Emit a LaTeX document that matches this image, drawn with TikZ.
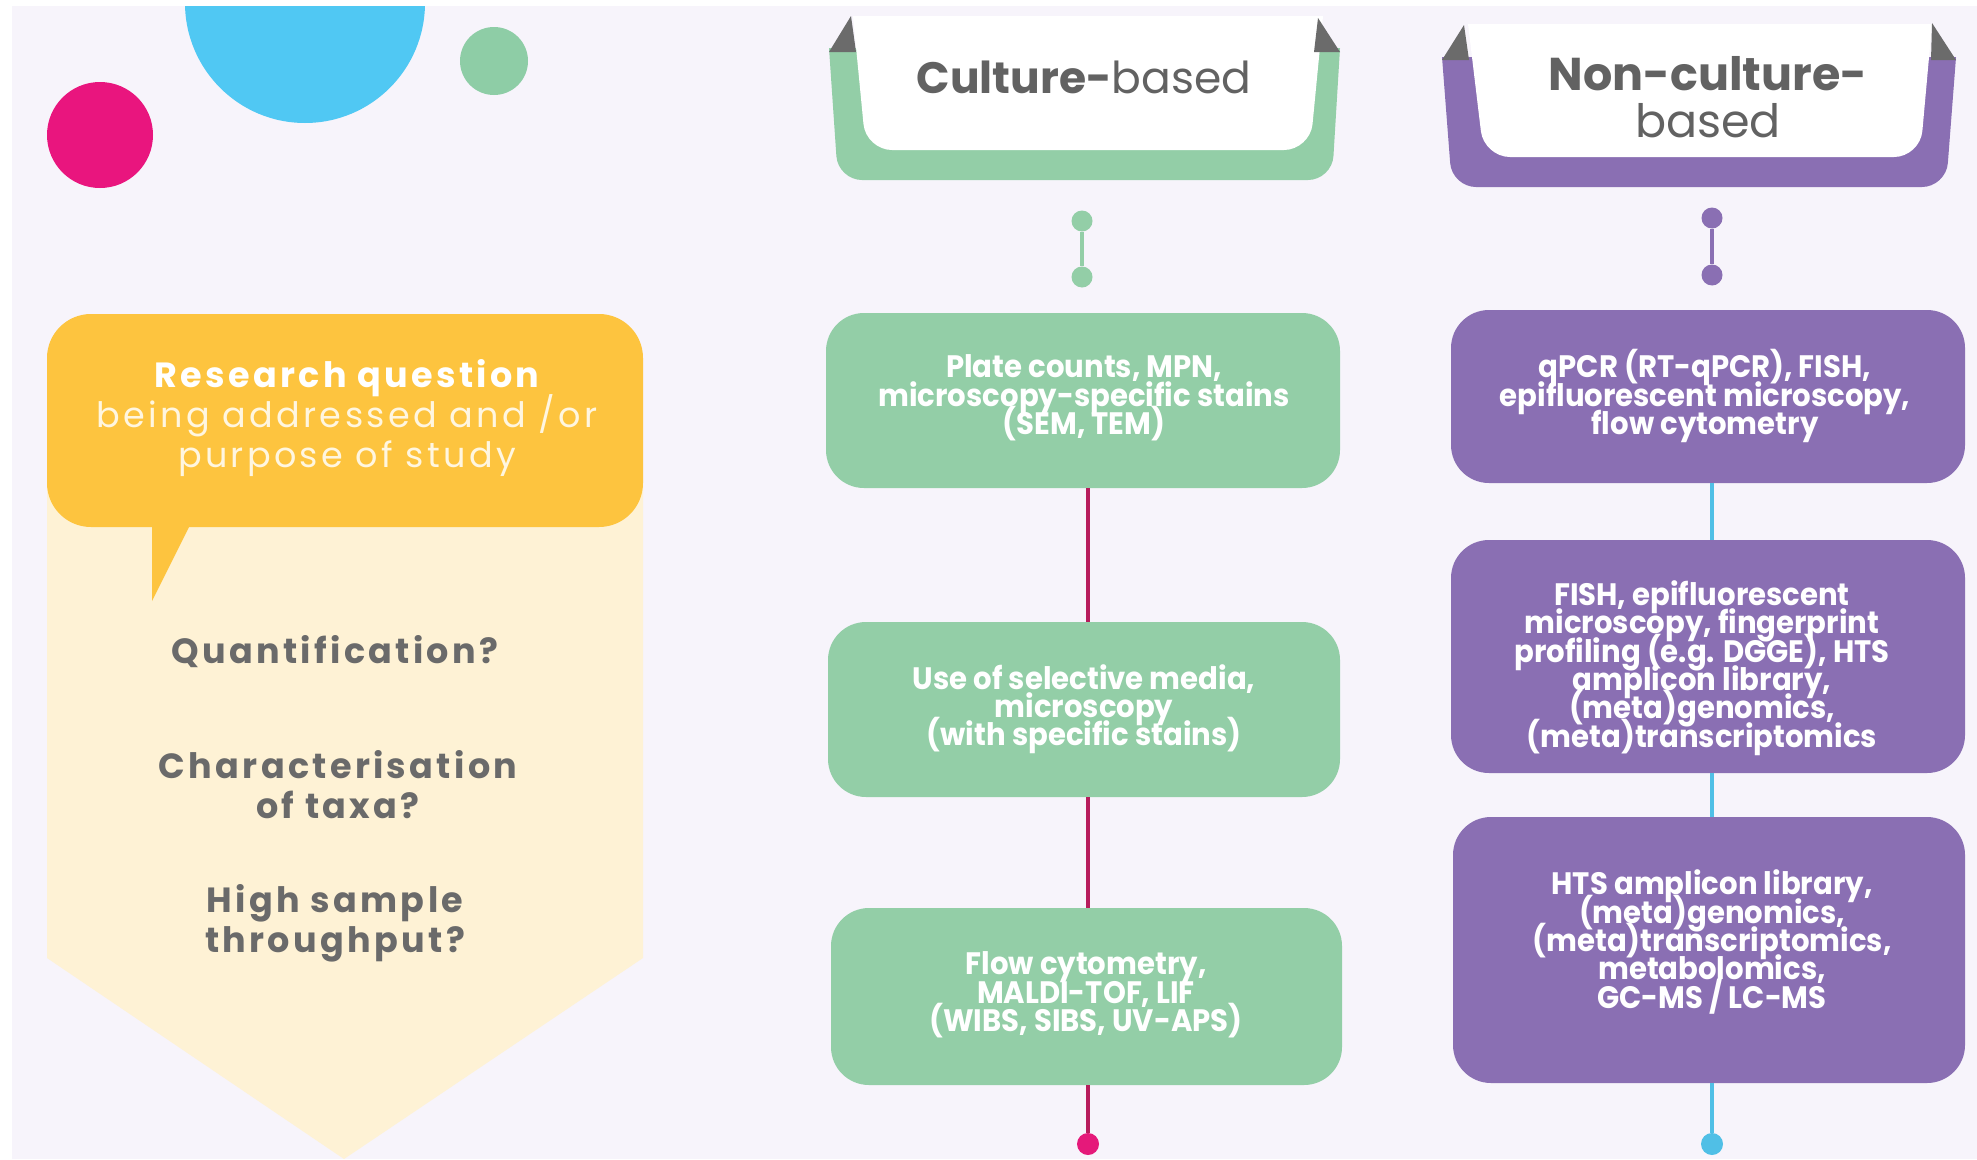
\documentclass[tikz,border=0pt]{standalone}
\usepackage{fontspec}
\setmainfont{Poppins}
\newfontfamily\boxfont{Poppins}[FakeStretch=0.94]
\newfontfamily\spacedfont{Poppins}[LetterSpace=9.5]
\AtBeginDocument{\setlength{\lineskiplimit}{-100pt}}
\definecolor{bg}{HTML}{F7F4FB}
\definecolor{grn}{HTML}{93CEA7}
\definecolor{pur}{HTML}{8A6FB3}
\definecolor{yel}{HTML}{FDC43F}
\definecolor{paleyel}{HTML}{FEF2D5}
\definecolor{magline}{HTML}{B71C5C}
\definecolor{magdot}{HTML}{E5197A}
\definecolor{blueline}{HTML}{50BFE6}
\definecolor{spk}{HTML}{6B6B6B}
\definecolor{magc}{HTML}{E9157E}
\definecolor{bluec}{HTML}{50C8F3}
\definecolor{grnc}{HTML}{8ECDA6}
\definecolor{txtgray}{HTML}{6A6A6A}
\definecolor{hdrgray}{HTML}{626262}
\definecolor{cream}{HTML}{FFF6E0}
\begin{document}
\begin{tikzpicture}[x=1pt,y=-1pt,
  gbox/.style={draw=none,fill=grn,rounded corners=38pt,inner sep=0pt},
  pbox/.style={draw=none,fill=pur,rounded corners=38pt,inner sep=0pt},
  boxtext/.style={text=white,align=center,font={\boxfont\bfseries\fontsize{31}{28.3}\selectfont},inner sep=0pt},
  qtext/.style={text=txtgray,align=center,font={\spacedfont\bfseries\fontsize{35}{40}\selectfont},inner sep=0pt},
  gdot/.style={circle,fill=grn,draw=none,minimum size=21pt,inner sep=0pt},
  pdot/.style={circle,fill=pur,draw=none,minimum size=21pt,inner sep=0pt},
  mline/.style={draw=magline,line width=4pt},
  bline/.style={draw=blueline,line width=3.5pt}
]
\useasboundingbox (0,0) rectangle (1977,1159);
\fill[white] (0,0) rectangle (1977,1159);
\fill[bg] (12,6) rectangle (1977,1159);
% decorative circles
\begin{scope}
\clip (12,6) rectangle (1977,1159);
\fill[bluec] (305,3) circle (120pt);
\end{scope}
\fill[magc] (100,135) circle (53pt);
\fill[grnc] (494,61) circle (34pt);
% left yellow panel
\fill[paleyel] (47,480) -- (643,480) -- (643,958) -- (344,1159) -- (47,958) -- cycle;
\fill[yel, rounded corners=44pt] (47,314) rectangle (643,527);
\fill[yel] (152,515) -- (195,515) -- (152,601) -- cycle;
\node[text=cream,align=center,inner sep=0pt,font={\spacedfont\fontsize{35}{40}\selectfont}] (rq) at (347,418)
  {\textcolor{white}{\bfseries Research question}\\being addressed and /or\\purpose of study};
\node[qtext] (q1) at (335,652) {Quantification?};
\node[qtext] (q2) at (338,785) {Characterisation\\of taxa?};
\node[qtext] (q3) at (335,923) {High sample\\throughput?};
% culture-based header
\fill[grn] (829,48) [rounded corners=24pt] -- (838,180) -- (1332,180) [sharp corners] -- (1340,48) -- cycle;
\fill[white] (853,16) [rounded corners=26pt] -- (866,150) -- (1310,150) [sharp corners] -- (1323,16) -- cycle;
\fill[spk] (829,52) -- (856,52) -- (851,16) -- cycle;
\fill[spk] (1340,52) -- (1314,52) -- (1318,18) -- cycle;
\node[text=hdrgray,inner sep=0pt,font={\fontsize{44}{46}\selectfont}] (ch) at (1084,77) {\textbf{Culture-}based};
% non-culture-based header
\fill[pur] (1442,57) [rounded corners=24pt] -- (1452,187) -- (1946,187) [sharp corners] -- (1956,57) -- cycle;
\fill[white] (1468,24) [rounded corners=26pt] -- (1484,157) -- (1920,157) [sharp corners] -- (1932,24) -- cycle;
\fill[spk] (1442,60) -- (1469,60) -- (1464,25) -- cycle;
\fill[spk] (1956,60) -- (1931,60) -- (1932,23) -- cycle;
\node[text=hdrgray,align=center,inner sep=0pt,font={\fontsize{46}{47}\selectfont}] (nh) at (1708,97) {\textbf{Non-culture-}\\based};
% dumbbells
\node[gdot] (gd1) at (1082,221) {};
\node[gdot] (gd2) at (1082,277) {};
\draw[draw=grn,line width=4pt] (gd1) -- (gd2);
\node[pdot] (pd1) at (1712,218) {};
\node[pdot] (pd2) at (1712,275) {};
\draw[draw=pur,line width=4pt] (pd1) -- (pd2);
% culture-based boxes
\node[gbox,minimum width=514pt,minimum height=175pt] (g1) at (1083,400.5) {};
\node[gbox,minimum width=512pt,minimum height=175pt] (g2) at (1084,709.5) {};
\node[gbox,minimum width=511pt,minimum height=177pt] (g3) at (1086.5,996.5) {};
\node[boxtext] (g1t) at (1084,398) {Plate counts, MPN,\\microscopy-specific stains\\(SEM, TEM)};
\node[boxtext] (g2t) at (1084,709) {Use of selective media,\\microscopy\\(with specific stains)};
\node[boxtext] (g3t) at (1086,995) {Flow cytometry,\\MALDI-TOF, LIF\\(WIBS, SIBS, UV-APS)};
% non-culture boxes
\node[pbox,minimum width=514pt,minimum height=173pt] (p1) at (1708,396.5) {};
\node[pbox,minimum width=514pt,minimum height=233pt] (p2) at (1708,656.5) {};
\node[pbox,minimum width=512pt,minimum height=266pt] (p3) at (1709,950) {};
\node[boxtext] (p1t) at (1705,396) {qPCR (RT-qPCR), FISH,\\epifluorescent microscopy,\\flow cytometry};
\node[boxtext] (p2t) at (1702,668) {FISH, epifluorescent\\microscopy, fingerprint\\profiling (e.g. DGGE), HTS\\amplicon library,\\(meta)genomics,\\(meta)transcriptomics};
\node[boxtext] (p3t) at (1712,942) {HTS amplicon library,\\(meta)genomics,\\(meta)transcriptomics,\\metabolomics,\\GC-MS / LC-MS};
% end dots
\node[circle,fill=magdot,minimum size=22pt,inner sep=0pt] (gend) at (1088,1144) {};
\node[circle,fill=blueline,minimum size=22pt,inner sep=0pt] (pend) at (1712,1144) {};
% connectors
\draw[mline] (g1.south -| gend) -- (g2.north -| gend);
\draw[mline] (g2.south -| gend) -- (g3.north -| gend);
\draw[mline] (g3.south -| gend) -- (gend);
\draw[bline] (p1.south -| pend) -- (p2.north -| pend);
\draw[bline] (p2.south -| pend) -- (p3.north -| pend);
\draw[bline] (p3.south -| pend) -- (pend);
\end{tikzpicture}
\end{document}
